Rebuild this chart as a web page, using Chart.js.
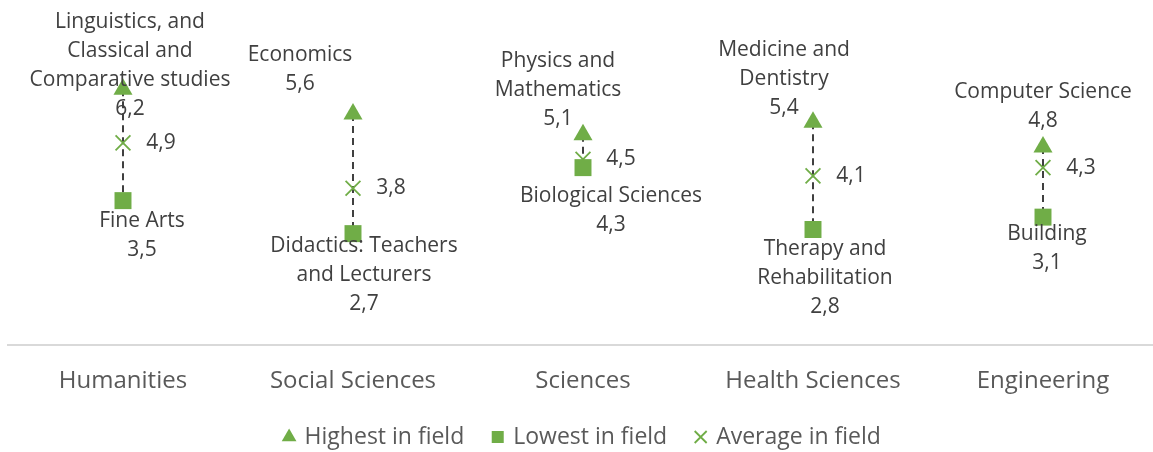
<!DOCTYPE html>
<html lang="en">
<head>
  <meta charset="utf-8">
  <title>Score range by field</title>
  <script src="https://cdn.jsdelivr.net/npm/chart.js"></script>
  <style>
    html, body { margin: 0; padding: 0; background: #fff; overflow: hidden; }
    #wrap { position: relative; width: 1158px; height: 452px; }
  </style>
</head>
<body>
<div id="wrap">
  <canvas id="rangeChart"></canvas>
</div>

<script>
  const categories = ['Humanities', 'Social Sciences', 'Sciences', 'Health Sciences', 'Engineering'];
  const highest = [6.2, 5.6, 5.1, 5.4, 4.8];
  const lowest = [3.5, 2.7, 4.3, 2.8, 3.1];
  const average = [4.9, 3.8, 4.5, 4.1, 4.3];

  const highestNames = [
    ['Linguistics, and', 'Classical and', 'Comparative studies'],
    ['Economics'],
    ['Physics and', 'Mathematics'],
    ['Medicine and', 'Dentistry'],
    ['Computer Science']
  ];
  const lowestNames = [
    ['Fine Arts'],
    ['Didactics: Teachers', 'and Lecturers'],
    ['Biological Sciences'],
    ['Therapy and', 'Rehabilitation'],
    ['Building']
  ];

  // where each label block sits relative to its marker (px)
  const highShift = [[7, 20], [-53, -30], [-25, -16], [-29, -14], [0, -26]];
  const lowShift = [[19, 20], [11, 12], [28, 28], [12, 20], [4, 17]];
  const avgShift = [38, 0];

  const green = '#70AD47';
  const labelFont = '21px "Open Sans"';
  const lineGap = 29;

  function fmt(v) {
    return v.toFixed(1).replace('.', ',');
  }

  // dashed connector between the highest and lowest marker of each field
  const rangeLines = {
    id: 'rangeLines',
    beforeDatasetsDraw(chart) {
      const ctx = chart.ctx;
      const hi = chart.getDatasetMeta(0).data;
      const lo = chart.getDatasetMeta(1).data;
      ctx.save();
      ctx.strokeStyle = '#404040';
      ctx.lineWidth = 2;
      ctx.setLineDash([7, 5]);
      for (let i = 0; i < hi.length; i++) {
        ctx.beginPath();
        ctx.moveTo(hi[i].x, hi[i].y);
        ctx.lineTo(lo[i].x, lo[i].y);
        ctx.stroke();
      }
      ctx.restore();
    }
  };

  const pointLabels = {
    id: 'pointLabels',
    afterDatasetsDraw(chart) {
      const ctx = chart.ctx;
      const hi = chart.getDatasetMeta(0).data;
      const lo = chart.getDatasetMeta(1).data;
      const av = chart.getDatasetMeta(2).data;
      ctx.save();
      ctx.font = labelFont;
      ctx.fillStyle = '#404040';
      ctx.textAlign = 'center';
      ctx.textBaseline = 'middle';
      for (let i = 0; i < hi.length; i++) {
        // highest: name lines stacked above the value
        const hx = hi[i].x + highShift[i][0];
        const hy = hi[i].y + highShift[i][1];
        const hl = highestNames[i].concat([fmt(highest[i])]);
        hl.forEach((t, k) => {
          ctx.fillText(t, hx, hy - (hl.length - 1 - k) * lineGap);
        });

        // lowest: name lines first, value underneath
        const lx = lo[i].x + lowShift[i][0];
        const ly = lo[i].y + lowShift[i][1];
        const ll = lowestNames[i].concat([fmt(lowest[i])]);
        ll.forEach((t, k) => {
          ctx.fillText(t, lx, ly + k * lineGap);
        });

        // average: value to the right
        ctx.fillText(fmt(average[i]), av[i].x + avgShift[0], av[i].y + avgShift[1]);
      }
      ctx.restore();
    }
  };

  new Chart(document.getElementById('rangeChart'), {
    type: 'line',
    data: {
      labels: categories,
      datasets: [
        {
          label: 'Highest in field',
          data: highest,
          showLine: false,
          pointStyle: 'triangle',
          pointRadius: 11,
          pointBackgroundColor: green,
          pointBorderColor: green,
          pointBorderWidth: 0,
          backgroundColor: green,
          borderColor: green
        },
        {
          label: 'Lowest in field',
          data: lowest,
          showLine: false,
          pointStyle: 'rect',
          pointRadius: 12,
          pointBackgroundColor: green,
          pointBorderColor: green,
          pointBorderWidth: 0,
          backgroundColor: green,
          borderColor: green
        },
        {
          label: 'Average in field',
          data: average,
          showLine: false,
          pointStyle: 'crossRot',
          pointRadius: 10.5,
          pointBorderColor: green,
          pointBorderWidth: 1.8,
          backgroundColor: green,
          borderColor: green,
          borderWidth: 1.8
        }
      ]
    },
    options: {
      responsive: true,
      maintainAspectRatio: false,
      animation: false,
      layout: {
        autoPadding: false,
        padding: { left: 8, right: 0, top: 15, bottom: -6.5 }
      },
      scales: {
        y: {
          display: false,
          min: 0,
          max: 8
        },
        x: {
          offset: true,
          grid: { display: false, drawTicks: true, tickLength: 21 },
          border: { display: true, color: '#d9d9d9', width: 2 },
          ticks: {
            color: '#595959',
            padding: 0,
            font: { family: 'Open Sans', size: 24, lineHeight: 1.25 }
          }
        }
      },
      plugins: {
        tooltip: { enabled: false },
        legend: {
          position: 'bottom',
          labels: {
            usePointStyle: true,
            boxWidth: 8,
            boxHeight: 12,
            padding: 29.5,
            color: '#595959',
            font: { family: 'Open Sans', size: 23 }
          }
        }
      }
    },
    plugins: [rangeLines, pointLabels]
  });
</script>
</body>
</html>
